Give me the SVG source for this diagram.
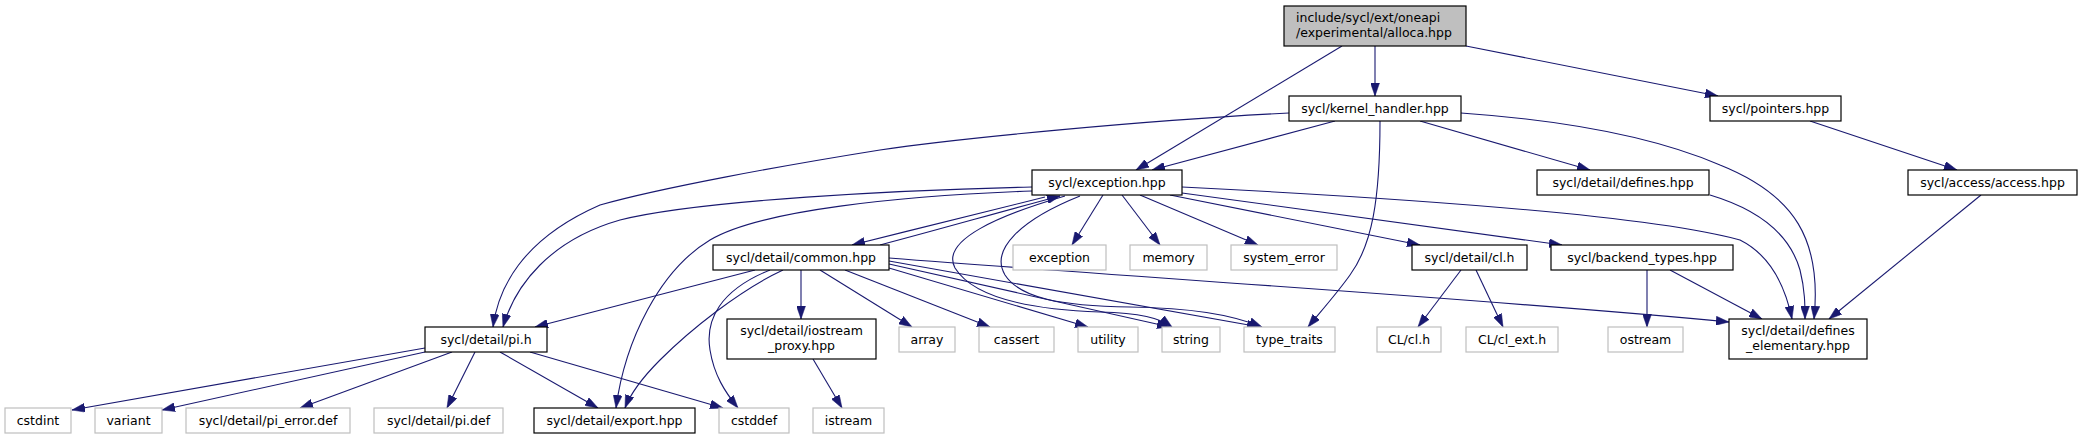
<svg xmlns="http://www.w3.org/2000/svg" width="2090" height="440" viewBox="0 0 2090 440">
<defs>
<marker id="a" viewBox="0 0 13 9" refX="13" refY="4.5" markerWidth="13" markerHeight="9" markerUnits="userSpaceOnUse" orient="auto">
<path d="M0,0 L13,4.5 L0,9 z" fill="#191970" stroke="#191970" stroke-width="0.5"/>
</marker>
<style>
text{font-family:"DejaVu Sans","Liberation Sans",sans-serif;font-size:12.5px;fill:#000;text-anchor:middle}
.n rect{fill:#fff;stroke:#000;stroke-width:1.2}
.g rect{fill:#fff;stroke:#bfbfbf;stroke-width:1.2}
#edges path{fill:none;stroke:#191970;stroke-width:1.1;marker-end:url(#a)}
</style>
</defs>
<rect width="2090" height="440" fill="#fff"/>
<g id="edges">
<path d="M1375,46 L1375,96"/>
<path d="M1342,46 L1136,170"/>
<path d="M1466,46 L1718,96"/>
<path d="M1810,121 L1957,170"/>
<path d="M1981,195 L1829,319"/>
<path d="M1335,121 L1152,170"/>
<path d="M1289,113 C1150,120 960,138 880,150 C780,166 660,188 600,205 C520,240 498,290 493,327"/>
<path d="M1032,187 C900,190 700,200 620,220 C550,240 515,285 503,327"/>
<path d="M1032,191 C900,196 760,210 710,240 C660,270 625,340 616,408"/>
<path d="M1420,121 L1590,170"/>
<path d="M1380,121 C1380,200 1372,245 1350,275 C1338,292 1322,310 1308,327"/>
<path d="M1461,113 C1560,120 1650,135 1720,165 C1795,195 1822,240 1814,319"/>
<path d="M1710,195 C1760,210 1790,235 1800,270 C1805,290 1805,305 1805,319"/>
<path d="M1182,187 C1400,198 1650,215 1740,240 C1770,255 1785,285 1792,319"/>
<path d="M1170,195 L1420,245"/>
<path d="M1182,193 L1562,245"/>
<path d="M1103,195 L1072,245"/>
<path d="M1122,195 L1160,245"/>
<path d="M1140,195 L1258,245"/>
<path d="M1045,197 C1000,208 920,228 852,245"/>
<path d="M880,245 C930,232 1000,212 1060,196"/>
<path d="M1065,196 C1000,215 940,240 955,268 C975,300 1040,310 1100,312 C1140,313 1160,318 1172,327"/>
<path d="M1080,196 C1020,220 990,250 1005,275 C1020,298 1060,306 1130,307 C1190,308 1230,314 1262,327"/>
<path d="M755,270 L535,327"/>
<path d="M783,270 C740,290 690,330 660,360 C640,380 630,395 625,408"/>
<path d="M770,270 C720,290 705,320 710,350 C714,375 725,392 738,408"/>
<path d="M801,270 L801,319"/>
<path d="M820,270 L912,327"/>
<path d="M845,270 L990,327"/>
<path d="M889,268 L1088,327"/>
<path d="M889,264 L1170,327"/>
<path d="M889,261 L1260,327"/>
<path d="M889,258 C1200,282 1500,300 1729,322"/>
<path d="M425,348 L72,410"/>
<path d="M425,352 L162,410"/>
<path d="M452,352 L300,408"/>
<path d="M475,352 L447,408"/>
<path d="M500,352 L598,408"/>
<path d="M530,352 L723,408"/>
<path d="M813,359 L842,408"/>
<path d="M1461,270 L1418,327"/>
<path d="M1476,270 L1503,327"/>
<path d="M1647,270 L1647,327"/>
<path d="M1670,270 L1762,319"/>
</g>
<g id="alloca" class="n"><rect x="1284" y="6" width="182" height="40" style="fill:#bfbfbf"/><text x="1296" y="21.5" style="text-anchor:start">include/sycl/ext/oneapi</text><text x="1296" y="36.5" style="text-anchor:start">/experimental/alloca.hpp</text></g>
<g id="kernel_handler" class="n"><rect x="1289" y="96" width="172" height="25"/><text x="1375" y="112.5">sycl/kernel_handler.hpp</text></g>
<g id="pointers" class="n"><rect x="1710" y="96" width="131" height="25"/><text x="1775.5" y="112.5">sycl/pointers.hpp</text></g>
<g id="exception_hpp" class="n"><rect x="1032" y="170" width="150" height="25"/><text x="1107" y="186.5">sycl/exception.hpp</text></g>
<g id="defines" class="n"><rect x="1537" y="170" width="172" height="25"/><text x="1623" y="186.5">sycl/detail/defines.hpp</text></g>
<g id="access" class="n"><rect x="1908" y="170" width="169" height="25"/><text x="1992.5" y="186.5">sycl/access/access.hpp</text></g>
<g id="common" class="n"><rect x="713" y="245" width="176" height="25"/><text x="801" y="261.5">sycl/detail/common.hpp</text></g>
<g id="std_exception" class="g"><rect x="1013" y="245" width="93" height="25"/><text x="1059.5" y="261.5">exception</text></g>
<g id="memory" class="g"><rect x="1130" y="245" width="77" height="25"/><text x="1168.5" y="261.5">memory</text></g>
<g id="system_error" class="g"><rect x="1231" y="245" width="106" height="25"/><text x="1284" y="261.5">system_error</text></g>
<g id="cl_h" class="n"><rect x="1412" y="245" width="115" height="25"/><text x="1469.5" y="261.5">sycl/detail/cl.h</text></g>
<g id="backend_types" class="n"><rect x="1551" y="245" width="182" height="25"/><text x="1642" y="261.5">sycl/backend_types.hpp</text></g>
<g id="pi_h" class="n"><rect x="425" y="327" width="122" height="25"/><text x="486" y="343.5">sycl/detail/pi.h</text></g>
<g id="iostream_proxy" class="n"><rect x="727" y="319" width="149" height="40"/><text x="801.5" y="334.5">sycl/detail/iostream</text><text x="801.5" y="349.5">_proxy.hpp</text></g>
<g id="array" class="g"><rect x="899" y="327" width="56" height="25"/><text x="927" y="343.5">array</text></g>
<g id="cassert" class="g"><rect x="979" y="327" width="75" height="25"/><text x="1016.5" y="343.5">cassert</text></g>
<g id="utility" class="g"><rect x="1078" y="327" width="60" height="25"/><text x="1108" y="343.5">utility</text></g>
<g id="string" class="g"><rect x="1162" y="327" width="58" height="25"/><text x="1191" y="343.5">string</text></g>
<g id="type_traits" class="g"><rect x="1244" y="327" width="91" height="25"/><text x="1289.5" y="343.5">type_traits</text></g>
<g id="CL_cl_h" class="g"><rect x="1377" y="327" width="64" height="25"/><text x="1409" y="343.5">CL/cl.h</text></g>
<g id="CL_cl_ext_h" class="g"><rect x="1466" y="327" width="92" height="25"/><text x="1512" y="343.5">CL/cl_ext.h</text></g>
<g id="ostream" class="g"><rect x="1608" y="327" width="75" height="25"/><text x="1645.5" y="343.5">ostream</text></g>
<g id="defines_elementary" class="n"><rect x="1729" y="319" width="138" height="40"/><text x="1798" y="334.5">sycl/detail/defines</text><text x="1798" y="349.5">_elementary.hpp</text></g>
<g id="cstdint" class="g"><rect x="5" y="408" width="66" height="25"/><text x="38" y="424.5">cstdint</text></g>
<g id="variant" class="g"><rect x="95" y="408" width="67" height="25"/><text x="128.5" y="424.5">variant</text></g>
<g id="pi_error_def" class="g"><rect x="186" y="408" width="164" height="25"/><text x="268" y="424.5">sycl/detail/pi_error.def</text></g>
<g id="pi_def" class="g"><rect x="374" y="408" width="129" height="25"/><text x="438.5" y="424.5">sycl/detail/pi.def</text></g>
<g id="export" class="n"><rect x="534" y="408" width="161" height="25"/><text x="614.5" y="424.5">sycl/detail/export.hpp</text></g>
<g id="cstddef" class="g"><rect x="719" y="408" width="70" height="25"/><text x="754" y="424.5">cstddef</text></g>
<g id="istream" class="g"><rect x="813" y="408" width="71" height="25"/><text x="848.5" y="424.5">istream</text></g>
</svg>
